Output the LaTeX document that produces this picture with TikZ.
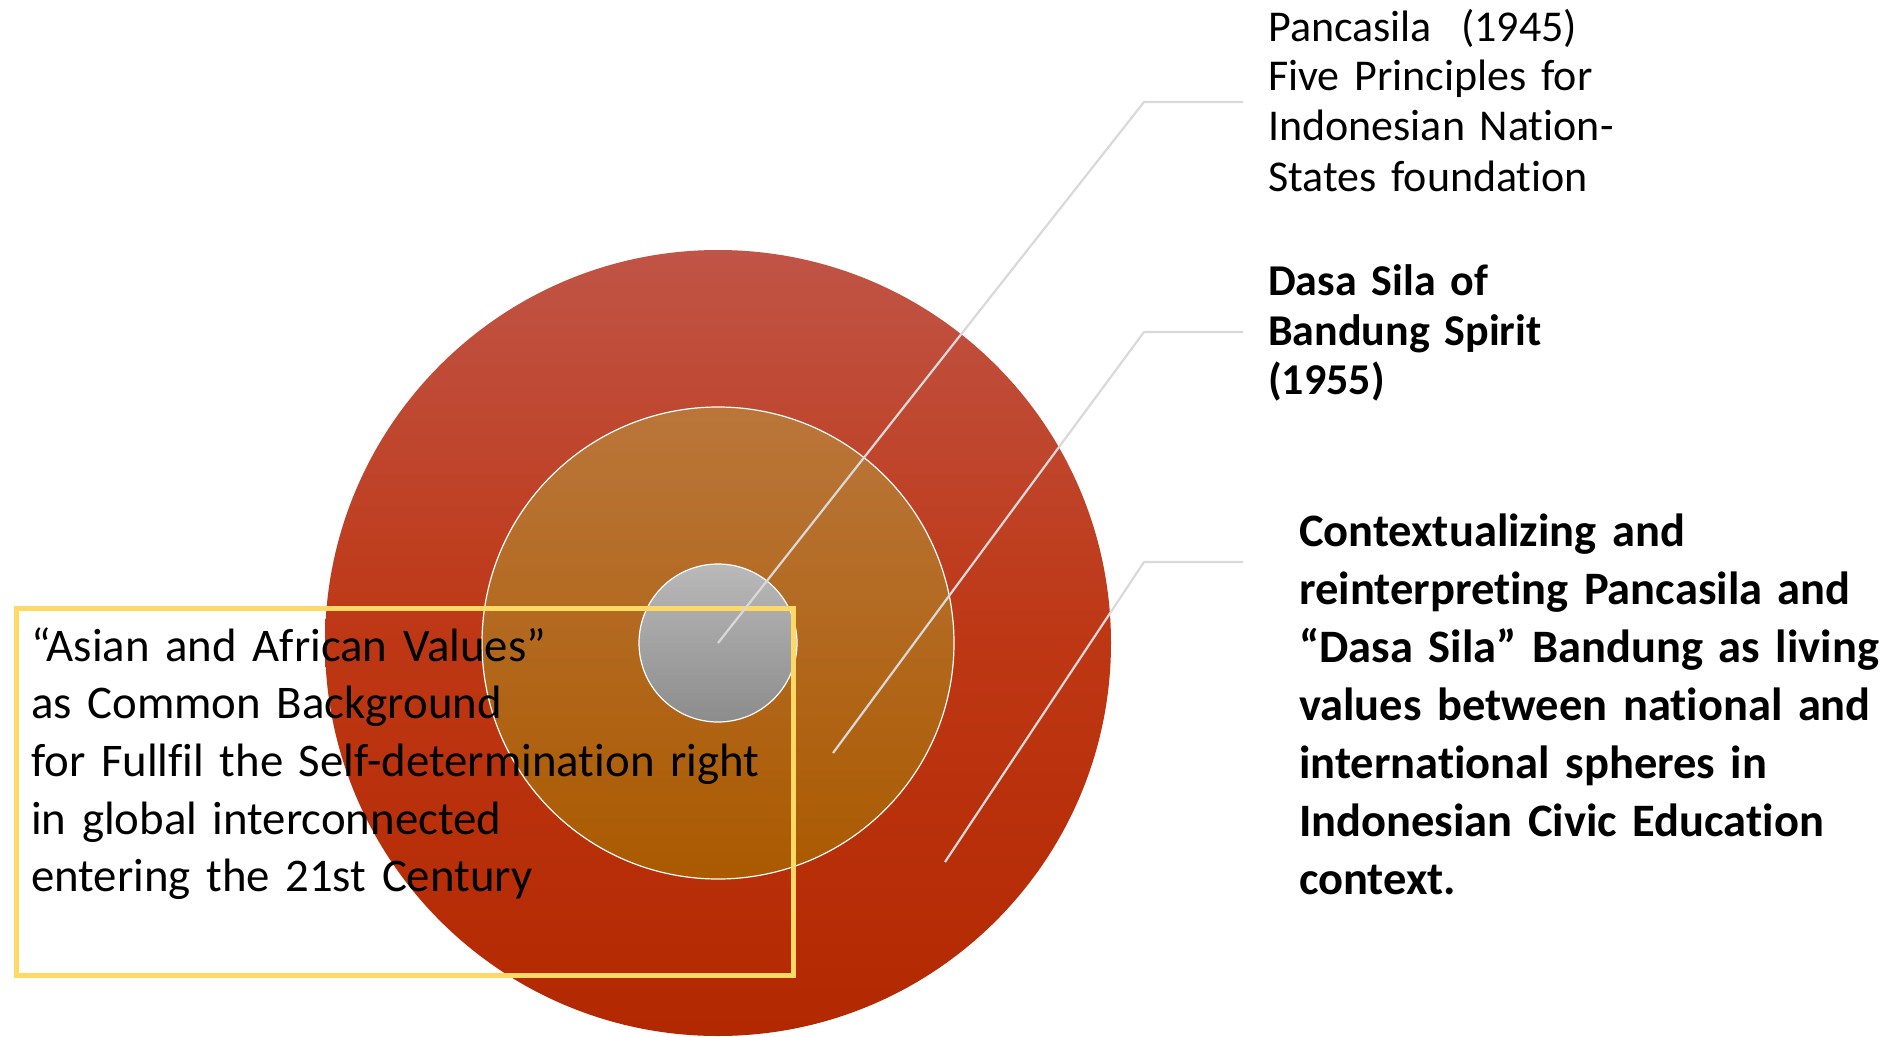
\documentclass[tikz,border=0pt]{standalone}
\usepackage{fontspec}
\setmainfont{Carlito}[Ligatures=NoCommon]
\definecolor{outerTop}{RGB}{192,84,70}
\definecolor{outerMid}{RGB}{190,55,20}
\definecolor{outerBot}{RGB}{178,40,0}
\definecolor{midTop}{RGB}{186,118,58}
\definecolor{midBot}{RGB}{170,90,0}
\definecolor{inTop}{RGB}{185,185,185}
\definecolor{inBot}{RGB}{140,140,140}
\definecolor{leader}{RGB}{217,217,217}
\definecolor{boxYellow}{RGB}{255,217,102}
\tikzset{
  ring/.style={circle, inner sep=0pt, outer sep=0pt},
  leaderline/.style={draw=leader, line width=2.2pt, line join=round},
  txtA/.style={anchor=base west, inner sep=0pt, align=left, text width=700pt,
    font=\fontsize{44}{50}\selectfont},
  txtB/.style={anchor=base west, inner sep=0pt, align=left, text width=700pt,
    font=\fontsize{44}{49.5}\selectfont\bfseries},
  txtC/.style={anchor=base west, inner sep=0pt, align=left, text width=700pt,
    font=\fontsize{46.5}{58}\selectfont\bfseries},
  txtD/.style={anchor=base west, inner sep=0pt, align=left, text width=900pt,
    font=\fontsize{46.8}{57.7}\selectfont},
}
\begin{document}
\begin{tikzpicture}[x=1pt,y=-1pt]
\useasboundingbox (0,0) rectangle (1887,1036);
\node[ring, minimum size=786pt, top color=outerTop, bottom color=outerBot, middle color=outerMid] (outer) at (718,643) {};
\node[ring, minimum size=472pt, top color=midTop, bottom color=midBot, draw=white, line width=1.2pt] (middle) at (718,643) {};
\node[ring, minimum size=158pt, top color=inTop, bottom color=inBot, draw=white, line width=1.2pt] (inner) at (718,643) {};
% yellow box
\node[draw=boxYellow, line width=5pt, minimum width=777pt, minimum height=367pt, inner sep=0pt, anchor=north west] (box) at (14,606) {};
% leader lines
\coordinate (e2) at (833,753);
\coordinate (e3) at (945,862);
\coordinate (k1) at (1144,102);
\coordinate (k2) at (1144,332);
\coordinate (k3) at (1144,562);
\coordinate (t1) at (1243,102);
\coordinate (t2) at (1243,332);
\coordinate (t3) at (1243,562);
\draw[leaderline] (inner.center) -- (k1) -- (t1);
\draw[leaderline] (e2) -- (k2) -- (t2);
\draw[leaderline] (e3) -- (k3) -- (t3);
% texts
\node[txtA] (pancasila) at (1268,41) {Pancasila\ \ (1945)\\Five Principles for\\Indonesian Nation-\\States foundation};
\node[txtB] (dasasila) at (1268,295.5) {Dasa Sila of\\Bandung Spirit\\(1955)};
\node[txtC] (context) at (1299,546.5) {Contextualizing and\\reinterpreting Pancasila and\\“Dasa Sila” Bandung as living\\values between national and\\international spheres in\\Indonesian Civic Education\\context.};
\node[txtD] (asian) at (31,661) {“Asian and African Values”\\as Common Background\\for Fullfil the Self-determination right\\in global interconnected\\entering the 21st Century};
\end{tikzpicture}
\end{document}
